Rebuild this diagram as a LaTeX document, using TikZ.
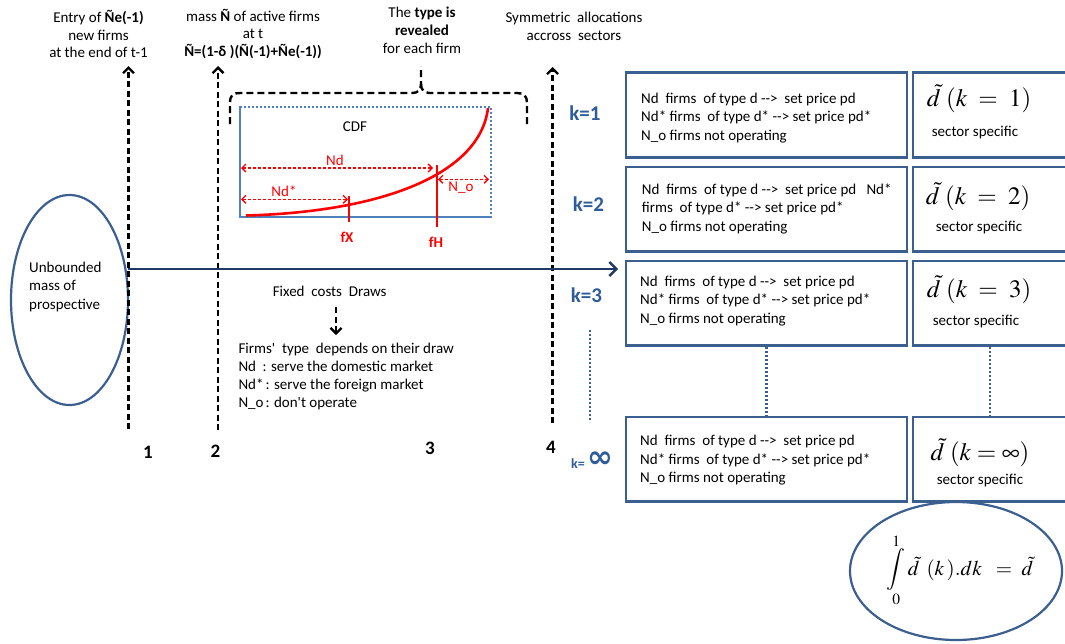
\documentclass[tikz,border=0pt]{standalone}
\usepackage{mathptmx}
\usepackage{fontspec}
\setmainfont{Carlito}
\newfontfamily\dejavu{DejaVu Sans}
\usetikzlibrary{arrows.meta,shapes.geometric}
\definecolor{boxblue}{HTML}{3B5F8E}
\definecolor{cdfblue}{HTML}{4F81BD}
\definecolor{navy}{HTML}{1F3A64}
\definecolor{kblue}{HTML}{2E5C9A}
\newcommand{\myarr}{-{}-{}>}
\begin{document}
\begin{tikzpicture}[x=1pt,y=-1pt,
  txt/.style={font=\fontsize{15}{17.5}\selectfont, inner sep=0pt, align=center},
  boxtxt/.style={font=\fontsize{15}{18.5}\selectfont, inner sep=0pt, align=left, anchor=west},
  sbox/.style={draw=boxblue, line width=2.6pt, minimum height=84.5pt, inner sep=0pt},
  darr/.style={draw=black, line width=2.3pt, dash pattern=on 6pt off 3.5pt, -{Straight Barb[length=5.5pt,width=11pt,line width=2.3pt]}},
  brace/.style={draw=black, line width=2.4pt, dash pattern=on 7pt off 4pt},
  navyarrow/.style={draw=navy, line width=2.4pt, -{Straight Barb[length=7pt,width=14pt,line width=2.4pt]}},
  num/.style={font=\fontsize{19}{19}\selectfont\bfseries, inner sep=0pt},
  klab/.style={font=\fontsize{21}{21}\selectfont\bfseries, text=kblue, inner sep=0pt},
  mth/.style={font=\fontsize{25}{25}\selectfont, inner sep=0pt},
  sec/.style={font=\fontsize{15}{15}\selectfont, inner sep=0pt},
  reddash/.style={draw=red, line width=1.3pt, dash pattern=on 3pt off 2pt, {Straight Barb[length=4pt,width=8pt,line width=1.3pt]}-{Straight Barb[length=4pt,width=8pt,line width=1.3pt]}},
  redlab/.style={font=\fontsize{15}{15}\selectfont, text=red, inner sep=0pt},
  dotline/.style={draw=boxblue, line width=2.2pt, dash pattern=on 2pt off 2pt}
]
\useasboundingbox (0,0) rectangle (1065,643);

% top texts
\node[txt] (entry) at (98.5,34) {Entry of \textbf{Ñe(-1)}\\new firms\\at the end of t-1};
\node[txt] (mass) at (253,34) {mass \textbf{Ñ} of active firms\\at t\\\textbf{Ñ=(1-δ )(Ñ(-1)+Ñe(-1))}};
\node[txt, font=\fontsize{15}{18}\selectfont] (typerev) at (422,30) {The \textbf{type is}\\\textbf{revealed}\\for each firm};
\node[txt, font=\fontsize{15}{18}\selectfont] (sym) at (574,26) {Symmetric~ allocations\\accross~ sectors};

% left pool
\node[draw=boxblue, line width=2.2pt, ellipse, minimum width=117pt, minimum height=210pt, inner sep=0pt] (pool) at (69.5,300) {};
\node[boxtxt] (pooltxt) at (29,286.5) {Unbounded\\mass of\\prospective};

% timeline dashed arrows
\coordinate (t1b) at (128.5,429); \coordinate (t1t) at (128.5,66);
\coordinate (t2b) at (218,430);   \coordinate (t2t) at (218,66);
\coordinate (t4b) at (552.5,423); \coordinate (t4t) at (552.5,67);
\draw[darr] (t1b) -- (t1t);
\draw[darr] (t2b) -- (t2t);
\draw[darr] (t4b) -- (t4t);

\node[num] (n1) at (148,452) {1};
\node[num] (n2) at (215.5,451) {2};
\node[num] (n3) at (430,448) {3};
\node[num] (n4) at (551,447) {4};

% main horizontal arrow
\coordinate (hs) at (128,269); \coordinate (he) at (618,269);
\draw[navyarrow] (hs) -- (he);

% brace
\draw[brace] (230,124) -- (230,103) .. controls (230,95) and (233,93) .. (240,93) -- (412,93) .. controls (418,93) and (421,90) .. (421,84) -- (421,66);
\draw[brace] (421,84) .. controls (421,90) and (424,93) .. (430,93) -- (517,93) .. controls (524,93) and (527,96) .. (527,103) -- (527,124);

% CDF box
\draw[cdfblue, line width=2pt, dash pattern=on 2pt off 2pt] (240,106.5) -- (490.5,106.5) -- (490.5,216);
\draw[cdfblue, line width=2.6pt] (240,106) -- (240,217) -- (491.5,217);
\node[sec] (cdf) at (355,127) {CDF};
\draw[red, line width=2.6pt] (246,215.5) .. controls (380,212) and (480,175) .. (488,108);
\draw[red, line width=1.4pt] (349,196) -- (349,222);
\draw[red, line width=1.4pt] (437,165) -- (437,227);
\node[redlab, font=\fontsize{15}{15}\selectfont\bfseries] (fx) at (347,237) {fX};
\node[redlab, font=\fontsize{15}{15}\selectfont\bfseries] (fh) at (436,242) {fH};
\coordinate (ndl) at (241,168); \coordinate (ndr) at (433,168);
\coordinate (nsl) at (241,199.3); \coordinate (nsr) at (348,199.3);
\coordinate (nol) at (438,179.3); \coordinate (nor) at (489,179.3);
\draw[reddash] (ndl) -- (ndr);
\draw[reddash] (nsl) -- (nsr);
\draw[reddash] (nol) -- (nor);
\node[redlab] (ndlab) at (335,160) {Nd};
\node[redlab] (nslab) at (284,191) {Nd*};
\node[redlab] (nolab) at (461,188) {N\_o};

% fixed cost draws
\node[sec] (fcd) at (329.7,291.7) {Fixed~ costs~ Draws};
\coordinate (fa1) at (336,307); \coordinate (fa2) at (336,335);
\draw[darr] (fa1) -- (fa2);
\node[boxtxt, font=\fontsize{15}{18}\selectfont] (types) at (238.3,376.5) {Firms\textquotesingle~ type~ depends on their draw\\
\makebox[24pt][l]{Nd}: serve the domestic market\\
\makebox[27pt][l]{Nd*}: serve the foreign market\\
\makebox[27pt][l]{N\_o}: don\textquotesingle t operate};

% k labels
\node[klab] (k1) at (585,113) {k=1};
\node[klab] (k2) at (588.5,204) {k=2};
\node[klab] (k3) at (586.5,295) {k=3};
\node[klab, anchor=base west] (kinf) at (571,468) {{\fontsize{14}{14}\selectfont k=}\hspace{3pt}{\dejavu\bfseries\fontsize{31}{31}\selectfont\raisebox{1pt}{∞}}};
\coordinate (kd1) at (590,330); \coordinate (kd2) at (590,422);
\draw[dotline] (kd1) -- (kd2);

% sector boxes
\node[sbox, minimum width=281pt] (b1) at (766.5,115) {};
\node[sbox, minimum width=281pt] (b2) at (766.5,209.2) {};
\node[sbox, minimum width=281pt] (b3) at (766.5,303.4) {};
\node[sbox, minimum width=281pt] (b4) at (766.5,459.4) {};
\node[sbox, minimum width=154pt] (r1) at (990,115) {};
\node[sbox, minimum width=154pt] (r2) at (990,209.2) {};
\node[sbox, minimum width=154pt] (r3) at (990,303.4) {};
\node[sbox, minimum width=154pt] (r4) at (990,459.4) {};
\draw[dotline] (b3.south) -- (b4.north);
\draw[dotline] (r3.south) -- (r4.north);

\node[boxtxt] (t1) at (641,118) {Nd~ firms~ of type d \myarr~ set price pd\\Nd* firms~ of type d* \myarr{} set price pd*\\N\_o firms not operating};
\node[boxtxt] (t2) at (641.7,208.5) {Nd~ firms~ of type d \myarr~ set price pd~~ Nd*\\firms~ of type d* \myarr{} set price pd*\\N\_o firms not operating};
\node[boxtxt] (t3) at (640,301) {Nd~ firms~ of type d \myarr~ set price pd\\Nd* firms~ of type d* \myarr{} set price pd*\\N\_o firms not operating};
\node[boxtxt] (t4) at (640,460.5) {Nd~ firms~ of type d \myarr~ set price pd\\Nd* firms~ of type d* \myarr{} set price pd*\\N\_o firms not operating};

\node[mth] (m1) at (979,99) {$\tilde{d}\;(k\;=\;1)$};
\node[mth] (m2) at (978,196.5) {$\tilde{d}\;(k\;=\;2)$};
\node[mth] (m3) at (979,290) {$\tilde{d}\;(k\;=\;3)$};
\node[mth] (m4) at (980,453) {$\tilde{d}\;(k=\infty)$};
\node[sec] (s1) at (975,133) {sector specific};
\node[sec] (s2) at (979,228) {sector specific};
\node[sec] (s3) at (976,322) {sector specific};
\node[sec] (s4) at (980,481) {sector specific};

% integral ellipse
\node[draw=boxblue, line width=2.2pt, ellipse, minimum width=212pt, minimum height=138pt, inner sep=0pt] (intell) at (956,571) {};
\node[mth, font=\fontsize{21}{21}\selectfont] (integ) at (960,573) {$\displaystyle\mathop{\int}\limits^{\raisebox{-7pt}{$\scriptstyle 1$}}_{\raisebox{5pt}{$\scriptstyle 0$}}\tilde{d}\;\,(k\,).dk\;\;=\;\tilde{d}$};
\end{tikzpicture}
\end{document}
